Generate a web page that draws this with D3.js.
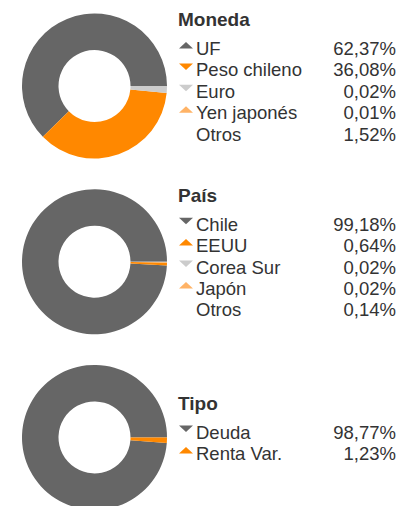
<!DOCTYPE html>
<html>
<head>
<meta charset="utf-8">
<script src="https://cdn.jsdelivr.net/npm/d3@7"></script>
<style>
  html, body { margin: 0; padding: 0; background: #fff; }
  svg { display: block; }
  text { font-family: "Liberation Sans", Arial, sans-serif; }
</style>
</head>
<body>
<svg id="chart" width="413" height="506"></svg>
<script>
// ---- Data ----
const monedaTitle = "Moneda";
const monedaLabels = ["UF", "Peso chileno", "Euro", "Yen japonés", "Otros"];
const monedaValues = [62.37, 36.08, 0.02, 0.01, 1.52];
const monedaTrend = ["up", "down", "down", "up", null];

const paisTitle = "País";
const paisLabels = ["Chile", "EEUU", "Corea Sur", "Japón", "Otros"];
const paisValues = [99.18, 0.64, 0.02, 0.02, 0.14];
const paisTrend = ["down", "up", "down", "up", null];

const tipoTitle = "Tipo";
const tipoLabels = ["Deuda", "Renta Var."];
const tipoValues = [98.77, 1.23];
const tipoTrend = ["down", "up"];

const sliceColors = ["#666666", "#ff8800", "#cccccc", "#ffb366", "#cccccc"];

const groups = [
  { title: monedaTitle, labels: monedaLabels, values: monedaValues, trend: monedaTrend },
  { title: paisTitle, labels: paisLabels, values: paisValues, trend: paisTrend },
  { title: tipoTitle, labels: tipoLabels, values: tipoValues, trend: tipoTrend }
];

// ---- Layout ----
const svg = d3.select("#chart");
const cx = 94.5, cy0 = 86, rowGap = 175.7;
const rOuter = 72.5, rInner = 36;
const legendX = 196, markerX = 186, valueX = 396;
const rowH = 21.4, titleGap = 29;
const fmt = v => v.toFixed(2).replace(".", ",") + "%";

const pie = d3.pie().sort(null)
  .startAngle(Math.PI / 2)
  .endAngle(Math.PI / 2 - 2 * Math.PI);
const arc = d3.arc().innerRadius(rInner).outerRadius(rOuter);
const color = d3.scaleOrdinal().range(sliceColors);

groups.forEach((g, gi) => {
  const cy = cy0 + gi * rowGap;
  color.domain(g.labels);
  const gp = svg.append("g").attr("transform", `translate(${cx},${cy})`);
  gp.selectAll("path")
    .data(pie(g.values))
    .join("path")
    .attr("d", arc)
    .attr("fill", (d, i) => color(g.labels[i]));

  const n = g.labels.length;
  const blockH = titleGap + (n - 1) * rowH;
  const titleY = cy - 2.7 - blockH / 2;

  const lg = svg.append("g");
  lg.append("text")
    .attr("x", 178).attr("y", titleY)
    .attr("font-size", 19).attr("font-weight", "bold")
    .attr("fill", "#333")
    .text(g.title);

  g.labels.forEach((lab, i) => {
    const y = titleY + titleGap + i * rowH;
    const t = g.trend[i];
    if (t) {
      const top = y - 13, bot = y - 6.5, hw = 7;
      const pts = t === "up"
        ? [[markerX - hw, bot], [markerX + hw, bot], [markerX, top]]
        : [[markerX - hw, top], [markerX + hw, top], [markerX, bot]];
      lg.append("path")
        .attr("d", d3.line()(pts) + "Z")
        .attr("fill", color(lab));
    }
    lg.append("text")
      .attr("x", legendX).attr("y", y)
      .attr("font-size", 18.5).attr("fill", "#333")
      .text(lab);
    lg.append("text")
      .attr("x", valueX).attr("y", y)
      .attr("text-anchor", "end")
      .attr("font-size", 18.5).attr("fill", "#333")
      .text(fmt(g.values[i]));
  });
});
</script>
</body>
</html>
